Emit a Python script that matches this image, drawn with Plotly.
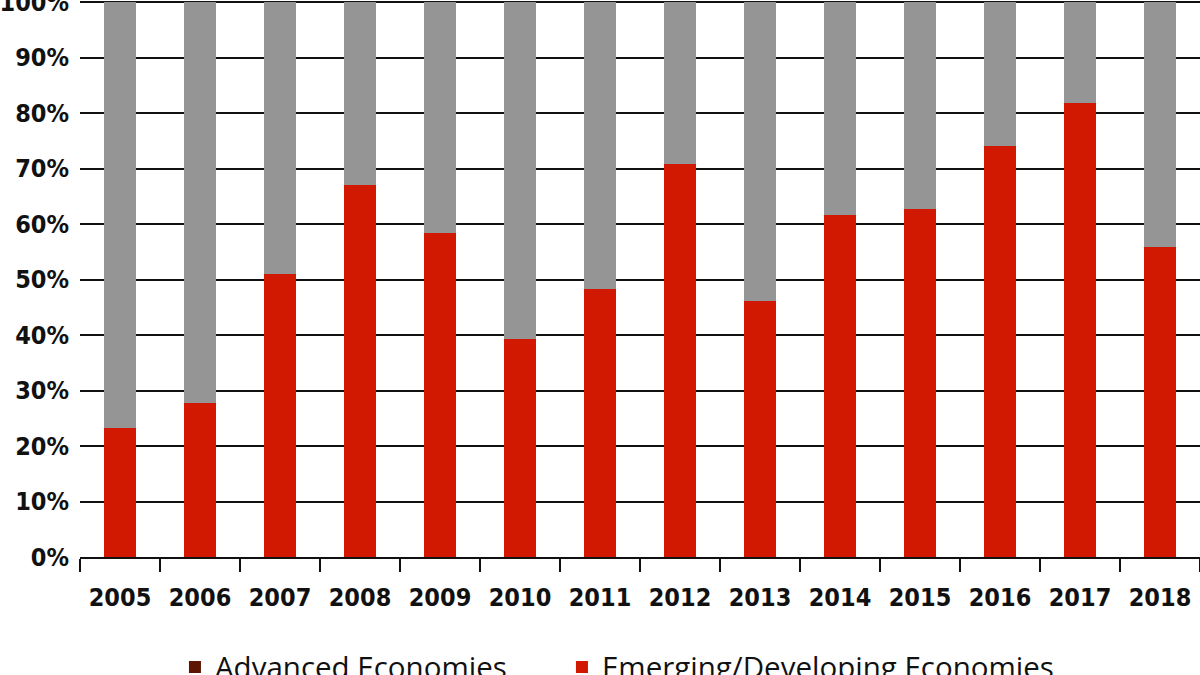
import plotly.graph_objects as go

years = ["2005", "2006", "2007", "2008", "2009", "2010", "2011",
         "2012", "2013", "2014", "2015", "2016", "2017", "2018"]
emerging = [23.2, 27.7, 51.0, 67.0, 58.4, 39.3, 48.3,
            70.8, 46.2, 61.6, 62.7, 74.1, 81.9, 55.8]
advanced = [0, 0, 0, 0, 0, 0, 0, 0, 0, 0, 0, 0, 0, 0]
other = [round(100 - e, 1) for e in emerging]
y_ticks = [0, 10, 20, 30, 40, 50, 60, 70, 80, 90, 100]
y_tick_labels = [f"{v}%" for v in y_ticks]

tick_font = dict(family="DejaVu Sans Condensed, DejaVu Sans, sans-serif", size=25,
                 color="#111111", weight="bold")
legend_font = dict(family="Open Sans, sans-serif", size=29.5, color="#111111")

fig = go.Figure()
fig.add_trace(go.Bar(x=years, y=advanced, name="Advanced Economies", legend="legend",
                     marker=dict(color="#5C1600", line=dict(width=0))))
fig.add_trace(go.Bar(x=years, y=emerging, name="Emerging/Developing Economies", legend="legend2",
                     marker=dict(color="#D11800", line=dict(width=0))))
fig.add_trace(go.Bar(x=years, y=other, name="Other", showlegend=False,
                     marker=dict(color="#959595", line=dict(width=0))))

fig.update_layout(
    barmode="stack",
    bargap=0.59,
    width=1200, height=675,
    margin=dict(l=80, r=0, t=0, b=118, autoexpand=False),
    plot_bgcolor="white", paper_bgcolor="white",
    showlegend=True,
    legend=dict(orientation="h", xref="container", yref="container",
                x=0.1458, xanchor="left", y=0.05, yanchor="top",
                font=legend_font, bgcolor="rgba(0,0,0,0)"),
    legend2=dict(orientation="h", xref="container", yref="container",
                 x=0.4683, xanchor="left", y=0.05, yanchor="top",
                 font=legend_font, bgcolor="rgba(0,0,0,0)"),
    xaxis=dict(showline=True, linecolor="#111111", linewidth=2,
               ticks="outside", ticklen=13, tickwidth=2, tickcolor="#111111",
               tickson="boundaries", tickfont=tick_font, showgrid=False,
               ticklabelstandoff=17, automargin=False, fixedrange=True),
    yaxis=dict(range=[0, 100.4], tickvals=y_ticks, ticktext=y_tick_labels,
               showgrid=True, gridcolor="#111111", gridwidth=2,
               showline=False, zeroline=False, ticks="", tickfont=tick_font,
               ticklabelstandoff=10, ticklabeloverflow="allow",
               automargin=False, fixedrange=True),
)

fig.write_html("out.html", config={"displayModeBar": False},
               post_script="document.body.style.margin='0';")
